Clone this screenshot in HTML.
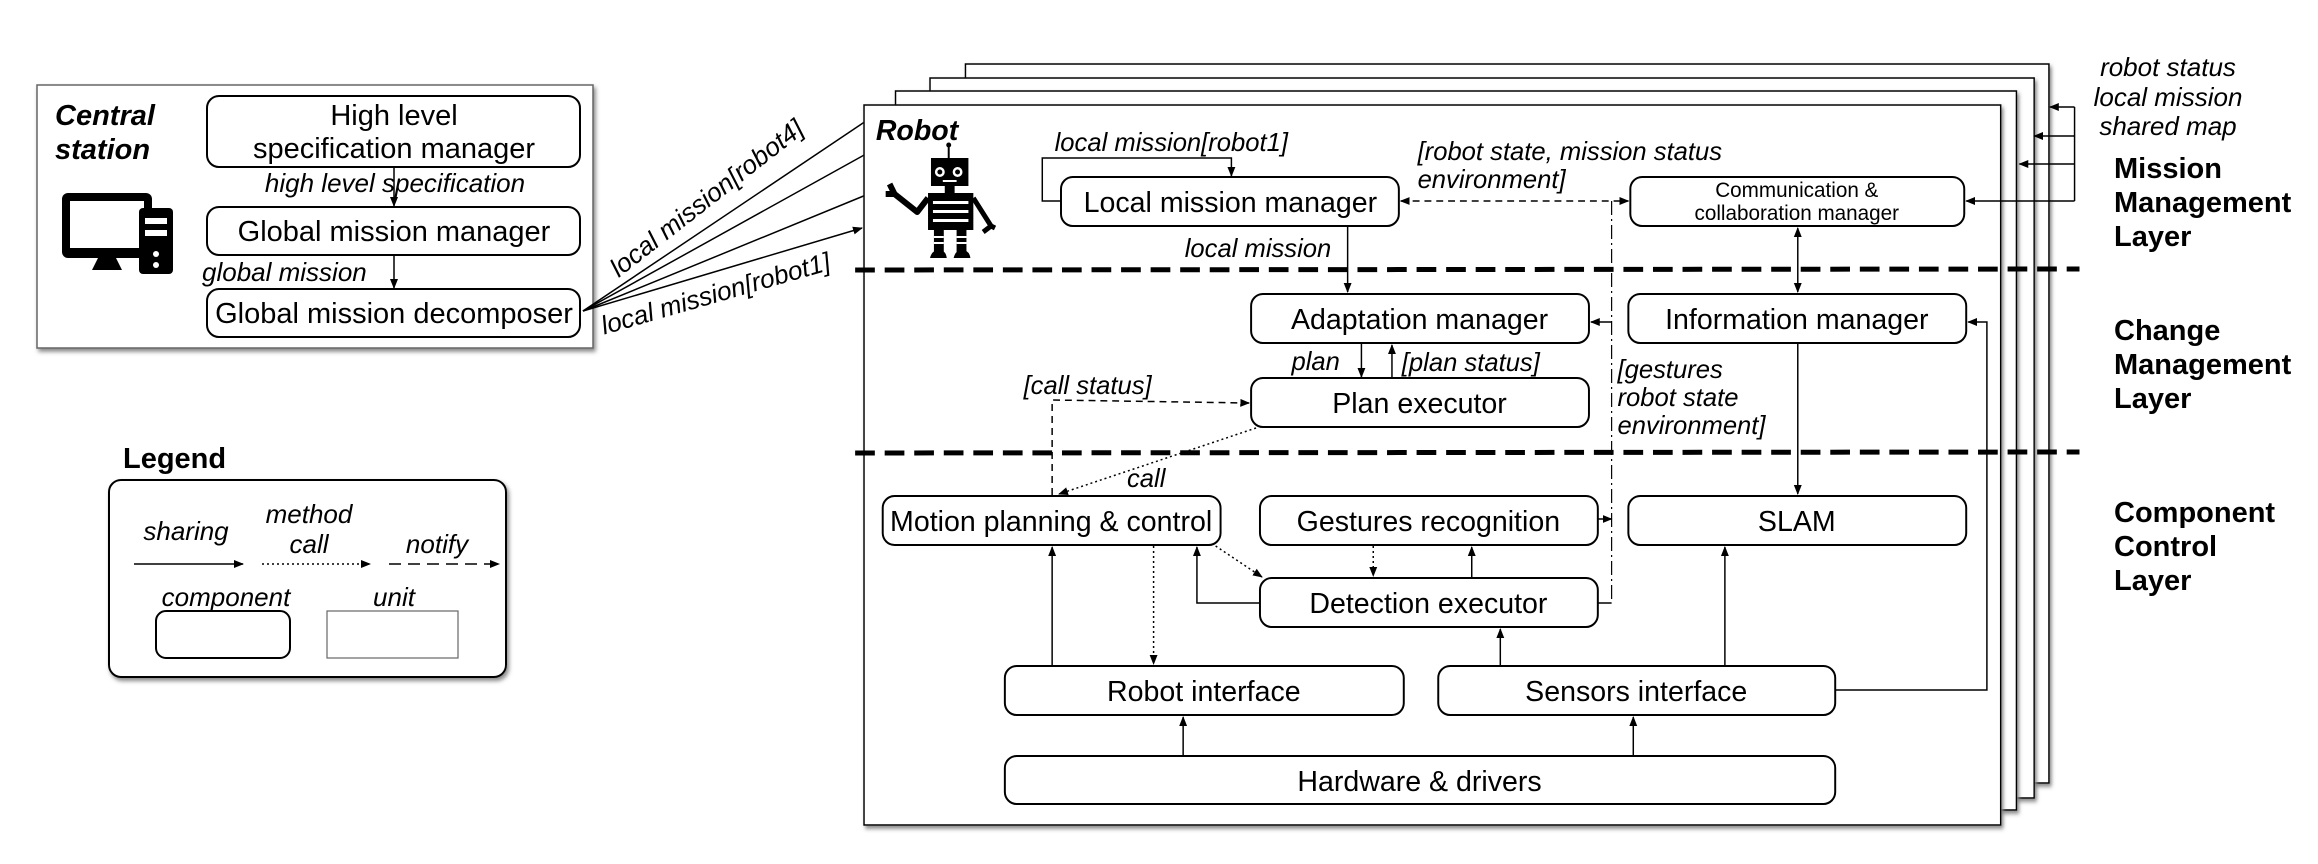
<!DOCTYPE html>
<html><head><meta charset="utf-8"><style>
html,body{margin:0;padding:0;background:#fff;}
svg{display:block;}
text{font-family:"Liberation Sans",Arial,sans-serif;fill:#000;}
.b{font-size:29px;text-anchor:middle;}
.i{font-size:26px;font-style:italic;}
.h{font-size:29px;font-weight:bold;}
.bx{fill:#fff;stroke:#000;stroke-width:2;}
.ln{stroke:#000;stroke-width:1.5;fill:none;}
.dsh{stroke:#000;stroke-width:1.5;fill:none;stroke-dasharray:7,5;}
.dot{stroke:#000;stroke-width:1.5;fill:none;stroke-dasharray:2,3;}
.dd{stroke:#000;stroke-width:1.2;fill:none;stroke-dasharray:14,4,2,4;}
.thick{stroke:#000;stroke-width:5;fill:none;stroke-dasharray:20,10;}
</style></head><body>
<svg width="2318" height="864" viewBox="0 0 2318 864" xmlns="http://www.w3.org/2000/svg">
<defs>
<marker id="a" markerWidth="10" markerHeight="10" refX="9" refY="5" orient="auto" markerUnits="userSpaceOnUse"><path d="M0,1 L10,5 L0,9 z" fill="#000"/></marker>
<marker id="s" markerWidth="10" markerHeight="10" refX="1" refY="5" orient="auto" markerUnits="userSpaceOnUse"><path d="M10,1 L0,5 L10,9 z" fill="#000"/></marker>
<filter id="sh" x="-5%" y="-5%" width="110%" height="110%"><feDropShadow dx="2" dy="3" stdDeviation="2" flood-color="#888"/></filter>
</defs>

<rect x="37" y="85" width="556" height="263" fill="#fff" stroke="#666" stroke-width="1.5" filter="url(#sh)"/>
<text x="55" y="125" class="h" font-style="italic">Central</text>
<text x="55" y="159" class="h" font-style="italic">station</text>
<rect x="62" y="193" width="90" height="65" rx="6" fill="#000"/>
<rect x="70" y="201" width="74" height="47" fill="#fff"/>
<path d="M98,258 L116,258 L122,270 L92,270 z" fill="#000"/>
<rect x="139" y="208" width="34" height="66" rx="4" fill="#000"/>
<rect x="145" y="218" width="22" height="6" fill="#fff"/>
<rect x="145" y="230" width="22" height="6" fill="#fff"/>
<circle cx="156" cy="254" r="3" fill="#fff"/><circle cx="156" cy="265" r="3" fill="#fff"/>

<rect x="207" y="96" width="373" height="71" rx="12" class="bx"/>
<text x="394" y="125" class="b">High level</text>
<text x="394" y="158" class="b">specification manager</text>
<line x1="394" y1="167" x2="394" y2="206" class="ln" marker-end="url(#a)"/>
<text x="395" y="192" class="i" text-anchor="middle">high level specification</text>
<rect x="207" y="207" width="373" height="48" rx="12" class="bx"/>
<text x="394" y="241" class="b">Global mission manager</text>
<line x1="394" y1="255" x2="394" y2="288" class="ln" marker-end="url(#a)"/>
<text x="202" y="281" class="i">global mission</text>
<rect x="207" y="289" width="373" height="48" rx="12" class="bx"/>
<text x="394" y="323" class="b">Global mission decomposer</text>

<line x1="583" y1="311" x2="866" y2="121" class="ln"/>
<line x1="583" y1="311" x2="866" y2="154" class="ln"/>
<line x1="583" y1="311" x2="866" y2="195" class="ln"/>
<line x1="583" y1="311" x2="862" y2="228" class="ln" marker-end="url(#a)"/>
<text transform="translate(712,205) rotate(-38)" class="i" text-anchor="middle">local mission[robot4]</text>
<text transform="translate(718,302) rotate(-16)" class="i" text-anchor="middle">local mission[robot1]</text>

<text x="123" y="468" class="h">Legend</text>
<rect x="109" y="480" width="397" height="197" rx="12" fill="#fff" stroke="#000" stroke-width="2" filter="url(#sh)"/>
<text x="186" y="540" class="i" text-anchor="middle">sharing</text>
<text x="309" y="523" class="i" text-anchor="middle">method</text>
<text x="309" y="553" class="i" text-anchor="middle">call</text>
<text x="437" y="553" class="i" text-anchor="middle">notify</text>
<line x1="134" y1="564" x2="243" y2="564" class="ln" marker-end="url(#a)"/>
<line x1="262" y1="564" x2="370" y2="564" class="dot" marker-end="url(#a)"/>
<line x1="389" y1="564" x2="499" y2="564" stroke="#000" stroke-width="1.5" stroke-dasharray="12,7" marker-end="url(#a)"/>
<text x="226" y="606" class="i" text-anchor="middle">component</text>
<text x="394" y="606" class="i" text-anchor="middle">unit</text>
<rect x="156" y="611" width="134" height="47" rx="10" class="bx" stroke-width="1.5"/>
<rect x="327" y="611" width="131" height="47" fill="#fff" stroke="#666" stroke-width="1.2"/>

<text x="2168" y="76" class="i" text-anchor="middle">robot status</text>
<text x="2168" y="106" class="i" text-anchor="middle">local mission</text>
<text x="2168" y="135" class="i" text-anchor="middle">shared map</text>
<text x="2114" y="178" class="h">Mission</text>
<text x="2114" y="212" class="h">Management</text>
<text x="2114" y="246" class="h">Layer</text>
<text x="2114" y="340" class="h">Change</text>
<text x="2114" y="374" class="h">Management</text>
<text x="2114" y="408" class="h">Layer</text>
<text x="2114" y="522" class="h">Component</text>
<text x="2114" y="556" class="h">Control</text>
<text x="2114" y="590" class="h">Layer</text>

<g transform="translate(864,0) scale(0.985,1) translate(-864,0)">
<rect x="967" y="64" width="1100" height="719" fill="#fff" stroke="#000" stroke-width="1.5" filter="url(#sh)"/>
<rect x="931" y="78" width="1121" height="720" fill="#fff" stroke="#000" stroke-width="1.5" filter="url(#sh)"/>
<rect x="896" y="91" width="1138" height="719" fill="#fff" stroke="#000" stroke-width="1.5" filter="url(#sh)"/>
<rect x="864" y="105" width="1154" height="720" fill="#fff" stroke="#000" stroke-width="1.5" filter="url(#sh)"/>
<text x="876" y="140" class="h" font-style="italic">Robot</text>

<line x1="950" y1="145" x2="950" y2="160" stroke="#000" stroke-width="2"/>
<circle cx="950" cy="145" r="2.5" fill="#000"/>
<rect x="932" y="158" width="38" height="28" fill="#000"/>
<circle cx="941" cy="172" r="5" fill="#fff"/><circle cx="959" cy="172" r="5" fill="#fff"/>
<circle cx="941" cy="172" r="2.5" fill="#000"/><circle cx="959" cy="172" r="2.5" fill="#000"/>
<rect x="944" y="180" width="14" height="2" fill="#fff"/>
<rect x="946" y="186" width="10" height="7" fill="#000"/>
<rect x="929" y="193" width="46" height="37" fill="#000"/>
<rect x="934" y="201" width="36" height="3" fill="#fff"/>
<rect x="934" y="210" width="36" height="3" fill="#fff"/>
<rect x="934" y="219" width="36" height="3" fill="#fff"/>
<path d="M929,198 L918,212 L895,194 L890,184 M895,194 L886,194" stroke="#000" stroke-width="6" fill="none" stroke-linejoin="round"/>
<path d="M975,198 L993,226 M993,226 L985,232 M993,226 L997,228" stroke="#000" stroke-width="5" fill="none"/>
<rect x="935" y="230" width="10" height="22" fill="#000"/>
<rect x="958" y="230" width="10" height="22" fill="#000"/>
<rect x="935" y="236" width="10" height="2" fill="#fff"/><rect x="935" y="242" width="10" height="2" fill="#fff"/>
<rect x="958" y="236" width="10" height="2" fill="#fff"/><rect x="958" y="242" width="10" height="2" fill="#fff"/>
<path d="M931,258 Q933,250 940,250 Q947,250 948,258 z" fill="#000"/>
<path d="M955,258 Q957,250 963,250 Q971,250 972,258 z" fill="#000"/>

<line x1="855" y1="270" x2="2098" y2="269" class="thick"/>
<line x1="855" y1="453" x2="2098" y2="452" class="thick"/>

<line x1="2093" y1="107" x2="2093" y2="201" class="ln"/>
<line x1="2093" y1="107" x2="2068" y2="107" class="ln" marker-end="url(#a)"/>
<line x1="2093" y1="136" x2="2052" y2="136" class="ln" marker-end="url(#a)"/>
<line x1="2093" y1="164" x2="2037" y2="164" class="ln" marker-end="url(#a)"/>
<line x1="2093" y1="201" x2="1983" y2="201" class="ln" marker-end="url(#a)"/>

<text x="1176" y="151" class="i" text-anchor="middle">local mission[robot1]</text>
<polyline points="1064,201 1045,201 1045,158 1237,158 1237,176" class="ln" marker-end="url(#a)"/>
<rect x="1064" y="177" width="343" height="49" rx="12" class="bx"/>
<text x="1236" y="212" class="b">Local mission manager</text>
<text x="1426" y="160" class="i">[robot state, mission status</text>
<text x="1426" y="188" class="i">environment]</text>
<line x1="1409" y1="201" x2="1640" y2="201" class="dsh" marker-start="url(#s)" marker-end="url(#a)"/>
<rect x="1642" y="177" width="339" height="49" rx="12" class="bx"/>
<text x="1811" y="197" class="b" style="font-size:21px">Communication &amp;</text>
<text x="1811" y="220" class="b" style="font-size:21px">collaboration manager</text>
<text x="1264" y="257" class="i" text-anchor="middle">local mission</text>
<line x1="1355" y1="226" x2="1355" y2="292" class="ln" marker-end="url(#a)"/>
<line x1="1812" y1="228" x2="1812" y2="292" class="ln" marker-start="url(#s)" marker-end="url(#a)"/>

<rect x="1257" y="294" width="343" height="49" rx="12" class="bx"/>
<text x="1428" y="329" class="b">Adaptation manager</text>
<rect x="1640" y="294" width="343" height="49" rx="12" class="bx"/>
<text x="1811" y="329" class="b">Information manager</text>
<text x="1298" y="370" class="i">plan</text>
<line x1="1369" y1="344" x2="1369" y2="377" class="ln" marker-end="url(#a)"/>
<line x1="1400" y1="378" x2="1400" y2="345" class="ln" marker-end="url(#a)"/>
<text x="1410" y="371" class="i">[plan status]</text>
<rect x="1257" y="378" width="343" height="49" rx="12" class="bx"/>
<text x="1428" y="413" class="b">Plan executor</text>
<text x="1629" y="378" class="i">[gestures</text>
<text x="1629" y="406" class="i">robot state</text>
<text x="1629" y="434" class="i">environment]</text>
<text x="1026" y="394" class="i">[call status]</text>
<polyline points="1055,495 1055,400 1255,403" class="dsh" marker-end="url(#a)"/>
<line x1="1262" y1="428" x2="1062" y2="494" class="dot" marker-end="url(#a)"/>
<text x="1131" y="487" class="i">call</text>
<line x1="1812" y1="344" x2="1812" y2="494" class="ln" marker-end="url(#a)"/>
<line x1="1623" y1="201" x2="1623" y2="603" class="dd"/>
<line x1="1623" y1="322" x2="1602" y2="322" class="ln" marker-end="url(#a)"/>
<line x1="1609" y1="519" x2="1623" y2="519" class="ln" marker-end="url(#a)"/>
<line x1="1609" y1="603" x2="1623" y2="603" class="ln"/>

<rect x="883" y="496" width="343" height="49" rx="12" class="bx"/>
<text x="1054" y="531" class="b">Motion planning &amp; control</text>
<rect x="1266" y="496" width="343" height="49" rx="12" class="bx"/>
<text x="1437" y="531" class="b">Gestures recognition</text>
<rect x="1640" y="496" width="343" height="49" rx="12" class="bx"/>
<text x="1811" y="531" class="b">SLAM</text>
<rect x="1266" y="578" width="343" height="49" rx="12" class="bx"/>
<text x="1437" y="613" class="b">Detection executor</text>
<rect x="1007" y="666" width="405" height="49" rx="12" class="bx"/>
<text x="1209" y="701" class="b">Robot interface</text>
<rect x="1447" y="666" width="403" height="49" rx="12" class="bx"/>
<text x="1648" y="701" class="b">Sensors interface</text>
<rect x="1007" y="756" width="843" height="48" rx="12" class="bx"/>
<text x="1428" y="791" class="b">Hardware &amp; drivers</text>

<line x1="1055" y1="666" x2="1055" y2="547" class="ln" marker-end="url(#a)"/>
<line x1="1158" y1="546" x2="1158" y2="664" class="dot" marker-end="url(#a)"/>
<polyline points="1266,603 1202,603 1202,547" class="ln" marker-end="url(#a)"/>
<line x1="1221" y1="546" x2="1268" y2="577" class="dot" marker-end="url(#a)"/>
<line x1="1381" y1="546" x2="1381" y2="576" class="dot" marker-end="url(#a)"/>
<line x1="1481" y1="578" x2="1481" y2="547" class="ln" marker-end="url(#a)"/>
<line x1="1510" y1="666" x2="1510" y2="629" class="ln" marker-end="url(#a)"/>
<line x1="1738" y1="666" x2="1738" y2="547" class="ln" marker-end="url(#a)"/>
<polyline points="1850,690 2004,690 2004,322 1985,322" class="ln" marker-end="url(#a)"/>
<line x1="1188" y1="756" x2="1188" y2="717" class="ln" marker-end="url(#a)"/>
<line x1="1645" y1="756" x2="1645" y2="717" class="ln" marker-end="url(#a)"/>
</g>
</svg>
</body></html>
